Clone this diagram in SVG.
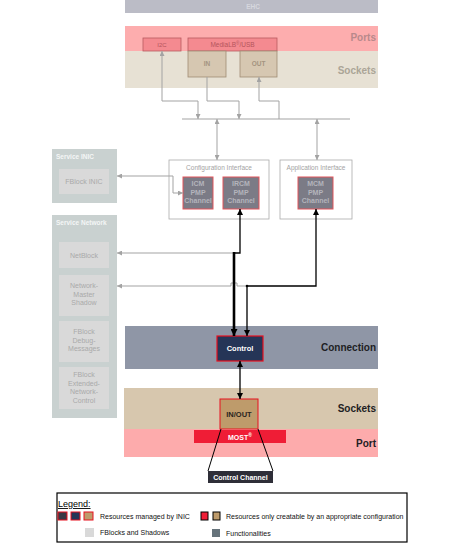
<svg xmlns="http://www.w3.org/2000/svg" width="469" height="551" viewBox="0 0 469 551">
<defs>
<style>
text{font-family:"Liberation Sans",Arial,sans-serif}
.band-lbl{font-size:10px;font-weight:bold}
.g{fill:none;stroke:#a3a3a3;stroke-width:1}
.b{fill:none;stroke:#000;stroke-width:1.3}
.fb{fill:#d9d9d9}
.fbt{font-size:7px;fill:#a9a9a9;text-anchor:middle}
.ch{fill:#7b7b86;stroke:#e2545a;stroke-width:1}
.cht{font-size:7px;font-weight:bold;fill:#b4b4bc;text-anchor:middle}
.ift{font-size:6.5px;fill:#a3a3a3;text-anchor:middle}
.lg{font-size:7px;fill:#111}
</style>
<marker id="ga" viewBox="0 0 10 10" refX="10" refY="5" markerWidth="5" markerHeight="5" markerUnits="userSpaceOnUse" orient="auto-start-reverse"><path d="M0,0L10,5L0,10z" fill="#a3a3a3"/></marker>
<marker id="ba" viewBox="0 0 10 10" refX="10" refY="5" markerWidth="6" markerHeight="6" markerUnits="userSpaceOnUse" orient="auto-start-reverse"><path d="M0,0L10,5L0,10z" fill="#000"/></marker>
<marker id="bat" viewBox="0 0 10 10" refX="10" refY="5" markerWidth="7" markerHeight="7" markerUnits="userSpaceOnUse" orient="auto-start-reverse"><path d="M0,0L10,5L0,10z" fill="#000"/></marker>
</defs>
<rect width="469" height="551" fill="#fff"/>

<g id="ehc">
<rect x="125" y="0" width="253" height="13" fill="#bbbcc6"/>
<text x="253" y="9" font-size="6.5" font-weight="bold" fill="#d6d7de" text-anchor="middle">EHC</text>
</g>

<g id="top-ports">
<rect x="125" y="26" width="253" height="25" fill="#fdadae"/>
<text x="376" y="41" class="band-lbl" fill="#b8898b" text-anchor="end">Ports</text>
</g>
<g id="top-sockets">
<rect x="125" y="51" width="253" height="37" fill="#e7e1d4"/>
<text x="376" y="74" class="band-lbl" fill="#aba597" text-anchor="end">Sockets</text>
</g>

<g id="i2c">
<rect x="143" y="38" width="38" height="13" fill="#f48a90" stroke="#b85b60" stroke-width="0.8"/>
<text x="162" y="47" font-size="6" fill="#b4555c" text-anchor="middle">I2C</text>
</g>
<g id="mlb">
<rect x="188" y="38" width="89" height="13" fill="#f48a90" stroke="#b85b60" stroke-width="0.8"/>
<text x="232.5" y="47" font-size="6.5" fill="#b4555c" text-anchor="middle">MediaLB<tspan font-size="4.5" dy="-2.5">®</tspan><tspan dy="2.5">/USB</tspan></text>
</g>
<g id="in">
<rect x="188" y="51" width="38" height="26" fill="#d6c7b1" stroke="#a08c74" stroke-width="0.8"/>
<text x="207" y="66" font-size="6.5" font-weight="bold" fill="#a49480" text-anchor="middle">IN</text>
</g>
<g id="out">
<rect x="240" y="51" width="37" height="26" fill="#d6c7b1" stroke="#a08c74" stroke-width="0.8"/>
<text x="258.5" y="66" font-size="6.5" font-weight="bold" fill="#a49480" text-anchor="middle">OUT</text>
</g>

<g id="service-inic">
<rect x="52" y="149" width="65" height="54" fill="#c9d1d0"/>
<text x="56" y="159" font-size="6.5" font-weight="bold" fill="#f4f6f6">Service INIC</text>
<rect x="59" y="169" width="50" height="25" class="fb"/>
<text x="84" y="184" class="fbt">FBlock INIC</text>
</g>

<g id="service-network">
<rect x="52" y="215" width="65" height="203" fill="#c9d1d0"/>
<text x="56" y="225" font-size="6.5" font-weight="bold" fill="#f4f6f6">Service Network</text>
</g>
<g id="netblock">
<rect x="59" y="242" width="50" height="26" class="fb"/>
<text x="84" y="257.5" class="fbt">NetBlock</text>
</g>
<g id="nm-shadow">
<rect x="59" y="275" width="50" height="41" class="fb"/>
<text x="84" y="288" class="fbt">Network-</text>
<text x="84" y="296.5" class="fbt">Master</text>
<text x="84" y="305" class="fbt">Shadow</text>
</g>
<g id="fb-debug">
<rect x="59" y="321" width="50" height="41" class="fb"/>
<text x="84" y="334" class="fbt">FBlock</text>
<text x="84" y="342.5" class="fbt">Debug-</text>
<text x="84" y="351" class="fbt">Messages</text>
</g>
<g id="fb-ext">
<rect x="59" y="367" width="50" height="42" class="fb"/>
<text x="84" y="377" class="fbt">FBlock</text>
<text x="84" y="385.5" class="fbt">Extended-</text>
<text x="84" y="394" class="fbt">Network-</text>
<text x="84" y="402.5" class="fbt">Control</text>
</g>

<g id="config-if">
<rect x="169" y="160" width="100" height="59" fill="#fff" stroke="#ababab" stroke-width="0.8"/>
<text x="219" y="170" class="ift">Configuration Interface</text>
</g>
<g id="icm">
<rect x="183" y="177" width="30" height="32" class="ch"/>
<text x="198" y="186" class="cht">ICM</text>
<text x="198" y="194.5" class="cht">PMP</text>
<text x="198" y="203" class="cht">Channel</text>
</g>
<g id="ircm">
<rect x="223" y="177" width="36" height="32" class="ch"/>
<text x="241" y="186" class="cht">IRCM</text>
<text x="241" y="194.5" class="cht">PMP</text>
<text x="241" y="203" class="cht">Channel</text>
</g>
<g id="app-if">
<rect x="280" y="160" width="72" height="59" fill="#fff" stroke="#ababab" stroke-width="0.8"/>
<text x="316" y="170" class="ift">Application Interface</text>
</g>
<g id="mcm">
<rect x="298" y="177" width="35" height="32" class="ch"/>
<text x="315.5" y="186" class="cht">MCM</text>
<text x="315.5" y="194.5" class="cht">PMP</text>
<text x="315.5" y="203" class="cht">Channel</text>
</g>

<g id="connection-band">
<rect x="125" y="326" width="253" height="43" fill="#8f96a6"/>
<text x="376" y="351" class="band-lbl" fill="#1e1e24" text-anchor="end">Connection</text>
</g>
<g id="control">
<rect x="217" y="336" width="46" height="25" fill="#253557" stroke="#e8101e" stroke-width="1.2"/>
<text x="240" y="351" font-size="7.5" font-weight="bold" fill="#fff" text-anchor="middle">Control</text>
</g>

<g id="sockets-band">
<rect x="124" y="388" width="254" height="41" fill="#d7c7ae"/>
<text x="376" y="412" class="band-lbl" fill="#1e1e24" text-anchor="end">Sockets</text>
</g>
<g id="port-band">
<rect x="124" y="429" width="254" height="28" fill="#fdabac"/>
<text x="376" y="447" class="band-lbl" fill="#1e1e24" text-anchor="end">Port</text>
</g>
<g id="most">
<rect x="194" y="430" width="92" height="13" fill="#ef1d36"/>
<text x="240" y="439.5" font-size="7" font-weight="bold" fill="#fff" text-anchor="middle">MOST<tspan font-size="5" dy="-2.5">®</tspan></text>
</g>
<g id="inout">
<rect x="220" y="399" width="38" height="30" fill="#be9b6b" stroke="#e8101e" stroke-width="1"/>
<text x="239" y="417" font-size="7.5" font-weight="bold" fill="#2a2420" text-anchor="middle">IN/OUT</text>
</g>
<g id="control-channel">
<rect x="208" y="471" width="65" height="12" fill="#2e2e38"/>
<text x="240.5" y="479.5" font-size="7" font-weight="bold" fill="#fff" text-anchor="middle">Control Channel</text>
</g>

<g id="connectors">
<path class="g" d="M182,119H350"/>
<path class="g" d="M162,51V101H198V119" marker-start="url(#ga)" marker-end="url(#ga)"/>
<path class="g" d="M207,77V101H239V119" marker-end="url(#ga)"/>
<path class="g" d="M259,77V101H279V119" marker-start="url(#ga)"/>
<path class="g" d="M217,119V160" marker-start="url(#ga)" marker-end="url(#ga)"/>
<path class="g" d="M317,119V160" marker-start="url(#ga)" marker-end="url(#ga)"/>
<path class="g" d="M117,176H173V193H183" marker-start="url(#ga)" marker-end="url(#ga)"/>
<path class="g" d="M117,253H234" marker-start="url(#ga)"/>
<path class="g" d="M117,286H231V283H237V286H246" marker-start="url(#ga)"/>
<path class="b" d="M240,209V253H234" marker-start="url(#ba)"/>
<path fill="none" stroke="#000" stroke-width="2.6" d="M234,252V336" marker-end="url(#bat)"/>
<path class="b" d="M316,209V286H247V336" marker-start="url(#ba)" marker-end="url(#ba)"/>
<circle cx="247" cy="286" r="1.3" fill="#000"/>
<path class="b" d="M240,361V399" marker-start="url(#ba)" marker-end="url(#ba)"/>
<path fill="none" stroke="#000" stroke-width="1" d="M221,429L208,471M258,429L273,471"/>
</g>

<g id="legend">
<rect x="57" y="493" width="350" height="49" fill="#fff" stroke="#000" stroke-width="1.2"/>
<text x="58" y="507" font-size="9" fill="#000" text-decoration="underline">Legend:</text>
<rect x="58" y="512" width="9" height="8" fill="#3a3a45" stroke="#e8101e"/>
<rect x="71" y="512" width="9" height="8" fill="#253557" stroke="#e8101e"/>
<rect x="84" y="512" width="9" height="8" fill="#be9b6b" stroke="#e8101e"/>
<text x="100" y="519" class="lg">Resources managed by INIC</text>
<rect x="201" y="512" width="7" height="8" fill="#ef1d36" stroke="#000"/>
<rect x="213" y="512" width="7" height="8" fill="#be9b6b" stroke="#000"/>
<text x="226" y="519" class="lg">Resources only creatable by an appropriate configuration</text>
<rect x="85" y="528" width="9" height="9" fill="#d9d9d9"/>
<text x="100" y="535" class="lg">FBlocks and Shadows</text>
<rect x="212" y="529" width="8" height="8" fill="#66737b"/>
<text x="226" y="536" class="lg">Functionalities</text>
</g>
</svg>
